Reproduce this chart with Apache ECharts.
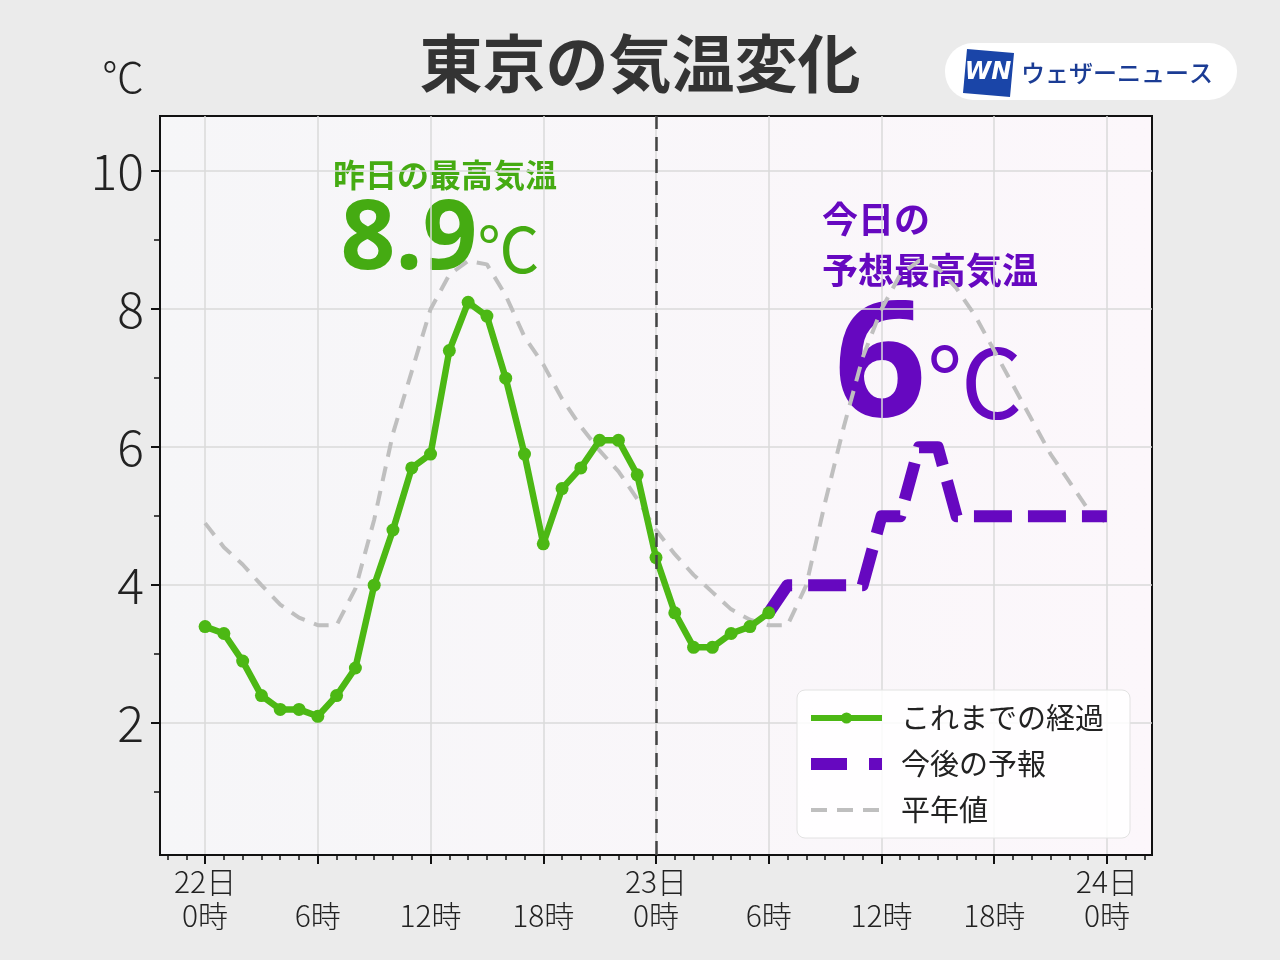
<!DOCTYPE html>
<html><head><meta charset="utf-8">
<script src="https://cdn.jsdelivr.net/npm/echarts@6.0.0/dist/echarts.min.js"></script>
<style>html,body{margin:0;padding:0;background:#ebebeb;}#c{width:1280px;height:960px;}</style>
</head><body><div id="c"></div>
<script>
// hours from 22日0時
const obsHours = [0,1,2,3,4,5,6,7,8,9,10,11,12,13,14,15,16,17,18,19,20,21,22,23,24,25,26,27,28,29,30];
const obsTemps = [3.4,3.3,2.9,2.4,2.2,2.2,2.1,2.4,2.8,4.0,4.8,5.7,5.9,7.4,8.1,7.9,7.0,5.9,4.6,5.4,5.7,6.1,6.1,5.6,4.4,3.6,3.1,3.1,3.3,3.4,3.6];
const fcHours = [30,31,32,33,34,35,36,37,38,39,40,41,42,43,44,45,46,47,48];
const fcTemps = [3.6,4.0,4.0,4.0,4.0,4.0,5.0,5.0,6.0,6.0,5.0,5.0,5.0,5.0,5.0,5.0,5.0,5.0,5.0];
const normHours = [0,1,2,3,4,5,6,7,8,9,10,11,12,13,14,15,16,17,18,19,20,21,22,23,24,25,26,27,28,29,30,31,32,33,34,35,36,37,38,39,40,41,42,43,44,45,46,47,48];
const normTemps = [4.9,4.55,4.3,4.0,3.72,3.53,3.42,3.42,3.95,4.95,6.2,7.1,8.0,8.5,8.7,8.65,8.2,7.6,7.2,6.7,6.3,5.95,5.65,5.25,4.8,4.45,4.15,3.9,3.65,3.5,3.42,3.42,4.0,5.2,6.3,7.3,8.0,8.5,8.7,8.6,8.3,7.9,7.4,6.9,6.4,5.9,5.5,5.1,4.9];
const xMajorTicks = [0,6,12,18,24,30,36,42,48];
const xMinorTicks = [-2,-1,0,1,2,3,4,5,6,7,8,9,10,11,12,13,14,15,16,17,18,19,20,21,22,23,24,25,26,27,28,29,30,31,32,33,34,35,36,37,38,39,40,41,42,43,44,45,46,47,48,49,50];
const yMajorTicks = [2,4,6,8,10];
const yMinorTicks = [1,3,5,7,9];
const dayLabels = ['22日','23日','24日'];
const nowHour = 24;

const FONT = '"Noto Sans CJK JP", "Noto Sans", sans-serif';
const GREEN = '#4cb814', PURPLE = '#6608c0', GRAY = '#bfbfbf';

const zip = (xs, ys) => xs.map((x, i) => [x, ys[i]]);

const chart = echarts.init(document.getElementById('c'));
const option = {
  backgroundColor: '#ebebeb',
  animation: false,
  textStyle: { fontFamily: FONT },
  grid: {
    left: 160, right: 128, top: 116, bottom: 105,
    show: true,
    backgroundColor: new echarts.graphic.LinearGradient(0, 0, 1, 0, [
      { offset: 0, color: '#f6f6f8' }, { offset: 1, color: '#fcf7fb' }
    ]),
    borderColor: '#111', borderWidth: 2
  },
  xAxis: [
    {
      type: 'value', min: -2.4, max: 50.4, position: 'bottom',
      axisLine: { show: true, onZero: false, lineStyle: { color: '#111', width: 2 } },
      axisTick: { show: true, customValues: xMajorTicks, length: 9, lineStyle: { color: '#111', width: 2 } },
      axisLabel: {
        customValues: xMajorTicks, margin: 10, fontSize: 30, lineHeight: 34, color: '#222', fontFamily: FONT, fontWeight: 300,
        formatter: v => (v % 24 === 0) ? (dayLabels[v / 24] + '\n0時') : ('\n' + (v % 24) + '時')
      },
      splitLine: { show: true, lineStyle: { color: '#dadada', width: 1.5 } }
    },
    {
      type: 'value', min: -2.4, max: 50.4, position: 'bottom', offset: 0,
      axisLine: { show: false, onZero: false },
      axisTick: { show: true, customValues: xMinorTicks, length: 5, lineStyle: { color: '#111', width: 1.5 } },
      axisLabel: { show: false }, splitLine: { show: false }
    }
  ],
  yAxis: [
    {
      type: 'value', min: 0.09, max: 10.8, position: 'left',
      axisLine: { show: true, onZero: false, lineStyle: { color: '#111', width: 2 } },
      axisTick: { show: true, customValues: yMajorTicks, length: 9, lineStyle: { color: '#111', width: 2 } },
      axisLabel: { customValues: yMajorTicks, margin: 16, fontSize: 50, color: '#222', fontFamily: FONT, fontWeight: 300 },
      splitLine: { show: true, lineStyle: { color: '#dadada', width: 1.5 } }
    },
    {
      type: 'value', min: 0.09, max: 10.8, position: 'left', offset: 0,
      axisLine: { show: false, onZero: false },
      axisTick: { show: true, customValues: yMinorTicks, length: 6, lineStyle: { color: '#111', width: 1.5 } },
      axisLabel: { show: false }, splitLine: { show: false }
    }
  ],
  legend: {
    orient: 'vertical', left: 797, top: 690,
    itemWidth: 71, itemHeight: 14, itemGap: 14,
    padding: [12, 26, 12, 8],
    backgroundColor: 'rgba(255,255,255,0.85)', borderColor: '#e2e2e2', borderWidth: 1, borderRadius: 8,
    textStyle: { fontSize: 29, color: '#222', fontFamily: FONT, lineHeight: 32, padding: [0, 0, 0, 14] },
    data: [
      { name: 'これまでの経過', lineStyle: { width: 6, color: GREEN }, itemStyle: { color: GREEN } },
      { name: '今後の予報', lineStyle: { width: 12, color: PURPLE, type: [36, 22] }, itemStyle: { opacity: 0 } },
      { name: '平年値', lineStyle: { width: 4, color: GRAY, type: [16, 10] }, itemStyle: { opacity: 0 } }
    ]
  },
  series: [
    {
      name: '平年値', type: 'line', symbol: 'none', z: 2,
      data: zip(normHours, normTemps),
      lineStyle: { color: GRAY, width: 4, type: [15, 10] },
      itemStyle: { color: GRAY },
      markLine: {
        silent: true, symbol: 'none', label: { show: false },
        lineStyle: { color: '#444', width: 2.5, type: [14, 8] },
        data: [{ xAxis: nowHour }]
      }
    },
    {
      name: '今後の予報', type: 'line', symbol: 'none', z: 3,
      data: zip(fcHours, fcTemps),
      lineStyle: { color: PURPLE, width: 12, type: [38, 16], join: 'round', cap: 'butt' },
      itemStyle: { color: PURPLE }
    },
    {
      name: 'これまでの経過', type: 'line', symbol: 'circle', symbolSize: 13, z: 4,
      data: zip(obsHours, obsTemps),
      lineStyle: { color: GREEN, width: 6.5 },
      itemStyle: { color: GREEN }
    }
  ],
  graphic: [
    { type: 'text', left: 'center', top: 32, style: { text: '東京の気温変化', font: 'bold 63px ' + FONT, fill: '#333' } },
    { type: 'text', x: 102, y: 56, style: { text: '℃', font: '300 42px ' + FONT, fill: '#222' } },
    { type: 'rect', shape: { x: 945, y: 43, width: 292, height: 57, r: 28 }, style: { fill: '#ffffff' } },
    { type: 'polygon', shape: { points: [[967, 49], [1014, 53], [1010, 97], [963, 93]] }, style: { fill: '#1a45a8' } },
    { type: 'text', x: 988, y: 73, style: { text: 'WN', font: 'italic bold 24px "DejaVu Sans", sans-serif', fill: '#ffffff', align: 'center', verticalAlign: 'middle' } },
    { type: 'text', x: 1021, y: 73, style: { text: 'ウェザーニュース', font: '500 24px ' + FONT, fill: '#1b3c94', verticalAlign: 'middle' } },
    { type: 'text', x: 445, y: 175, style: { text: '昨日の最高気温', font: 'bold 32px ' + FONT, fill: '#45ab12', align: 'center', verticalAlign: 'middle' } },
    { type: 'text', x: 440, y: 242, style: {
        text: '{a|8.9}{b|℃}', align: 'center', verticalAlign: 'middle',
        rich: { a: { fontSize: 96, fontWeight: 'bold', fontFamily: '"Noto Sans", sans-serif', fill: '#45ab12' },
                b: { fontSize: 62, fontFamily: FONT, fill: '#45ab12', padding: [14, 0, 0, 0] } } } },
    { type: 'text', x: 822, y: 219, style: { text: '今日の', font: 'bold 36px ' + FONT, fill: PURPLE, verticalAlign: 'middle' } },
    { type: 'text', x: 822, y: 270, style: { text: '予想最高気温', font: 'bold 36px ' + FONT, fill: PURPLE, verticalAlign: 'middle' } },
    { type: 'text', x: 834, y: 370, style: {
        text: '{a|6}{b|℃}', verticalAlign: 'middle',
        rich: { a: { fontSize: 162, fontWeight: 'bold', fontFamily: '"Noto Sans", sans-serif', fill: PURPLE },
                b: { fontSize: 96, fontFamily: FONT, fill: PURPLE, padding: [24, 0, 0, 0] } } } }
  ]
};
chart.setOption(option);
</script></body></html>
